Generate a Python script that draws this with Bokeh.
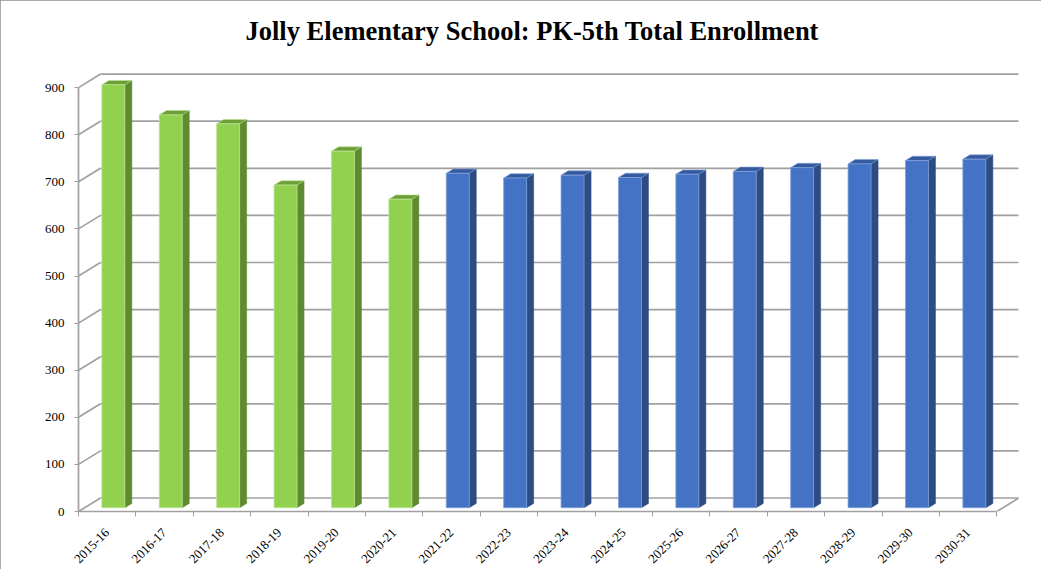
import math
from bokeh.plotting import figure
from bokeh.models import Range1d, FixedTicker, Label
from bokeh.embed import file_html
from bokeh.resources import INLINE

# ---- data ----
title_text = "Jolly Elementary School: PK-5th Total Enrollment"
years = ["2015-16", "2016-17", "2017-18", "2018-19", "2019-20", "2020-21",
         "2021-22", "2022-23", "2023-24", "2024-25", "2025-26", "2026-27",
         "2027-28", "2028-29", "2029-30", "2030-31"]
enrollment = [898, 834, 815, 685, 757, 655,
              710, 700, 706, 701, 708, 714, 722, 730, 737, 740]
is_projection = [False] * 6 + [True] * 10
y_ticks = [0, 100, 200, 300, 400, 500, 600, 700, 800, 900]

# ---- 3D look (perspective vector of the full depth) ----
DX, DY = 0.383, 28.7          # in data units (categories, students)
D0, D1 = 0.28, 0.60           # bar front / back depth fraction
HALF = 0.2                    # half width of a bar's front face
PX_X, PX_Y = 57.4, 0.471      # pixels per data unit

colors = {
    False: dict(front="#92D050", side="#5F8B30", top="#6E9E36", edge="#B9E38F"),
    True: dict(front="#4472C4", side="#2C4C82", top="#355A9E", edge="#7E9FDA"),
}

n = len(years)
FW, FH = 940, 506
p = figure(title=None, frame_width=FW, frame_height=FH,
           min_border_left=78, min_border_right=23,
           min_border_top=5, min_border_bottom=54,
           x_range=Range1d(0, FW / PX_X), y_range=Range1d(0, FH / PX_Y),
           output_backend="svg", toolbar_location=None,
           background_fill_color="white", border_fill_color="white")
p.outline_line_color = None
p.grid.visible = False
p.styles = {"outline": "2px solid #8f8f8f", "outline-offset": "-2px"}

# title, placed above the back wall
p.add_layout(Label(x=(245 - 78) / PX_X, y=(511 - 30) / PX_Y, text=title_text,
                   text_font="Liberation Serif", text_font_style="bold",
                   text_font_size="26.5px", text_color="black",
                   text_align="left", text_baseline="alphabetic"))

# ---- gridlines: left wall diagonals + back wall horizontals ----
grid_col = "#a0a0a0"
p.segment(x0=[0] * len(y_ticks), y0=y_ticks,
          x1=[DX] * len(y_ticks), y1=[t + DY for t in y_ticks],
          line_color=grid_col, line_width=1.7)
p.segment(x0=[DX] * len(y_ticks), y0=[t + DY for t in y_ticks],
          x1=[n + DX] * len(y_ticks), y1=[t + DY for t in y_ticks],
          line_color=grid_col, line_width=1.7)
# floor right edge
p.segment(x0=[n], y0=[0], x1=[n + DX], y1=[DY], line_color=grid_col, line_width=1.7)

# ---- bars ----
for i, (v, proj) in enumerate(zip(enrollment, is_projection)):
    c = colors[proj]
    cx = i + 0.5
    fx0 = cx - HALF + D0 * DX
    fx1 = cx + HALF + D0 * DX
    fy0 = D0 * DY
    fy1 = v + D0 * DY
    ddx = (D1 - D0) * DX
    ddy = (D1 - D0) * DY
    # side face
    p.patch([fx1, fx1 + ddx, fx1 + ddx, fx1], [fy0, fy0 + ddy, fy1 + ddy, fy1],
            fill_color=c["side"], line_color=c["side"], line_width=0.5)
    # top face
    p.patch([fx0, fx1, fx1 + ddx, fx0 + ddx], [fy1, fy1, fy1 + ddy, fy1 + ddy],
            fill_color=c["top"], line_color=c["edge"], line_width=0.6)
    # front face
    p.patch([fx0, fx1, fx1, fx0], [fy0, fy0, fy1, fy1],
            fill_color=c["front"], line_color=c["edge"], line_width=0.8)

# ---- axes ----
yax = p.yaxis[0]
yax.ticker = FixedTicker(ticks=y_ticks, minor_ticks=[])
yax.bounds = (0, 900)
yax.axis_line_color = grid_col
yax.axis_line_width = 1.7
yax.major_tick_line_color = grid_col
yax.major_tick_out = 4
yax.major_tick_in = 0
yax.major_label_standoff = 10
yax.major_label_text_font = "Liberation Serif"
yax.major_label_text_font_size = "13px"
yax.major_label_text_color = "black"

xax = p.xaxis[0]
centers = [i + 0.5 for i in range(n)]
xax.ticker = FixedTicker(ticks=centers, minor_ticks=list(range(n + 1)))
xax.major_label_overrides = {c: y for c, y in zip(centers, years)}
xax.bounds = (0, n)
xax.axis_line_color = grid_col
xax.axis_line_width = 1.7
xax.major_tick_out = 0
xax.major_tick_in = 0
xax.minor_tick_out = 5
xax.minor_tick_in = 0
xax.minor_tick_line_color = grid_col
xax.major_label_orientation = math.pi / 4
xax.major_label_standoff = 14
xax.major_label_text_font = "Liberation Serif"
xax.major_label_text_font_size = "13px"
xax.major_label_text_color = "black"

open("out.html", "w").write(file_html(p, INLINE))
